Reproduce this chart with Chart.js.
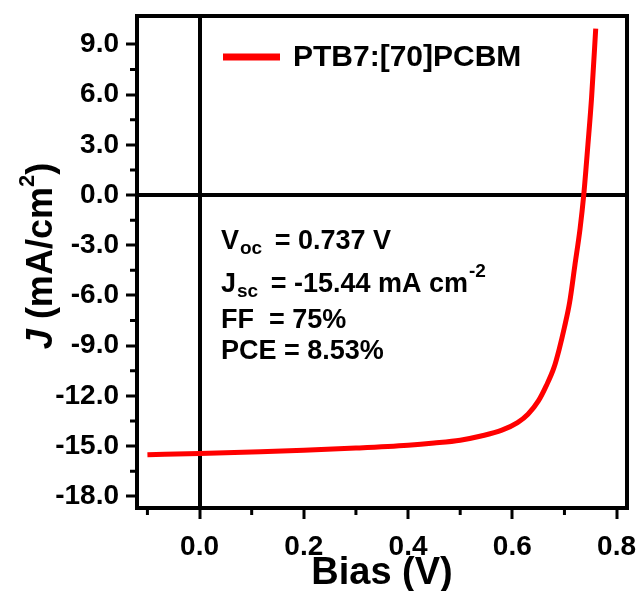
<!DOCTYPE html>
<html>
<head>
<meta charset="utf-8">
<script src="https://cdn.jsdelivr.net/npm/chart.js@4.4.1/dist/chart.umd.min.js"></script>
<style>
  html, body { margin: 0; padding: 0; background: #fff; }
  #wrap { width: 639px; height: 591px; }
</style>
</head>
<body>
<div id="wrap"><canvas id="jv" width="639" height="591"></canvas></div>
<script>
// J-V curve
const seriesLabel = "PTB7:[70]PCBM";
const biasV = [-0.1, 0, 0.1, 0.2, 0.3, 0.4, 0.45, 0.5, 0.54, 0.58, 0.61, 0.63, 0.65, 0.665, 0.68, 0.69, 0.70, 0.71, 0.72, 0.73, 0.737, 0.745, 0.752, 0.76];
const currentJ = [-15.52, -15.44, -15.35, -15.25, -15.12, -14.95, -14.82, -14.65, -14.4, -14.05, -13.6, -13.1, -12.3, -11.4, -10.3, -9.2, -7.9, -6.4, -4.2, -2.0, 0, 3.0, 5.8, 9.95];

const xTicks = [0, 0.2, 0.4, 0.6, 0.8];
const xMinor = [-0.1, 0.1, 0.3, 0.5, 0.7];
const yTicks = [-18, -15, -12, -9, -6, -3, 0, 3, 6, 9];
const yMinor = [-16.5, -13.5, -10.5, -7.5, -4.5, -1.5, 1.5, 4.5, 7.5];

// [main, subscript, rest, superscript]
const statLines = [
  ["V", "oc", " = 0.737 V", ""],
  ["J", "sc", " = -15.44 mA cm", "-2"],
  ["FF", "", "  = 75%", ""],
  ["PCE", "", " = 8.53%", ""]
];

const FAM = '"Liberation Sans", Arial, Helvetica, sans-serif';
const font = (size, style) => `${style || ""} bold ${size}px ${FAM}`;

const decor = {
  id: "decor",
  afterDraw(chart) {
    const { ctx, chartArea: a, scales } = chart;
    const xs = scales.x, ys = scales.y;
    ctx.save();
    ctx.strokeStyle = "#000";
    ctx.fillStyle = "#000";

    // minor ticks
    ctx.lineWidth = 3;
    ctx.beginPath();
    xMinor.forEach(v => {
      const px = xs.getPixelForValue(v);
      ctx.moveTo(px, a.bottom);
      ctx.lineTo(px, a.bottom + 7);
    });
    yMinor.forEach(v => {
      const py = ys.getPixelForValue(v);
      ctx.moveTo(a.left, py);
      ctx.lineTo(a.left - 7, py);
    });
    ctx.stroke();

    // frame
    ctx.lineWidth = 4;
    ctx.strokeRect(a.left, a.top, a.right - a.left, a.bottom - a.top);

    // legend
    const ds = chart.data.datasets[0];
    ctx.strokeStyle = ds.borderColor;
    ctx.lineWidth = 7;
    ctx.beginPath();
    ctx.moveTo(a.left + 86, a.top + 41);
    ctx.lineTo(a.left + 143, a.top + 41);
    ctx.stroke();
    ctx.font = font(30);
    ctx.textBaseline = "middle";
    ctx.textAlign = "left";
    ctx.fillText(ds.label, a.left + 156, a.top + 42);

    // stats
    ctx.textBaseline = "alphabetic";
    const baseY = [249, 292, 328, 359];
    statLines.forEach((ln, i) => {
      let x = 221;
      const y = baseY[i];
      ctx.font = font(27);
      ctx.fillText(ln[0], x, y);
      x += ctx.measureText(ln[0]).width;
      if (ln[1]) {
        ctx.font = font(19);
        ctx.fillText(ln[1], x + 1, y + 5);
        x += ctx.measureText(ln[1]).width + 6;
      }
      ctx.font = font(27);
      ctx.fillText(ln[2], x, y);
      x += ctx.measureText(ln[2]).width;
      if (ln[3]) {
        ctx.font = font(19);
        ctx.fillText(ln[3], x + 1, y - 15);
      }
    });

    // y title: J (mA/cm^2), rotated
    const parts = [
      { t: "J", f: font(36, "italic"), dy: 0 },
      { t: " (mA/cm", f: font(36), dy: 0 },
      { t: "2", f: font(22), dy: -18 },
      { t: ")", f: font(36), dy: 0 }
    ];
    let total = 0;
    parts.forEach(p => { ctx.font = p.f; p.w = ctx.measureText(p.t).width; total += p.w; });
    ctx.translate(52, (a.top + a.bottom) / 2 - 6);
    ctx.rotate(-Math.PI / 2);
    let cx = -total / 2;
    parts.forEach(p => {
      ctx.font = p.f;
      ctx.fillText(p.t, cx, p.dy);
      cx += p.w;
    });
    ctx.restore();
  }
};

new Chart(document.getElementById("jv"), {
  type: "line",
  data: {
    datasets: [{
      label: seriesLabel,
      data: biasV.map((v, i) => ({ x: v, y: currentJ[i] })),
      borderColor: "#ff0000",
      borderWidth: 5,
      pointRadius: 0,
      fill: false,
      cubicInterpolationMode: "monotone"
    }]
  },
  options: {
    responsive: false,
    animation: false,
    layout: { padding: { top: 16, right: 12, left: 0, bottom: 0 } },
    plugins: { legend: { display: false }, tooltip: { enabled: false } },
    scales: {
      x: {
        type: "linear",
        min: -0.12,
        max: 0.82,
        afterBuildTicks: s => { s.ticks = xTicks.map(v => ({ value: v })); },
        afterFit: s => { s.height = 83; s.paddingLeft = 0; s.paddingRight = 0; },
        border: { display: false },
        grid: {
          drawOnChartArea: true,
          color: c => (c.tick && c.tick.value === 0 ? "#000" : "rgba(0,0,0,0)"),
          lineWidth: 4,
          tickColor: "#000",
          tickWidth: 3,
          tickLength: 11
        },
        ticks: {
          color: "#000",
          padding: 11,
          maxRotation: 0,
          font: { family: FAM, size: 28, weight: "bold" },
          callback: v => Number(v).toFixed(1)
        },
        title: {
          display: true,
          text: "Bias (V)",
          color: "#000",
          padding: { top: 0, bottom: 0 },
          font: { family: FAM, size: 38, weight: "bold", lineHeight: 0.9 }
        }
      },
      y: {
        type: "linear",
        min: -18.7,
        max: 10.7,
        afterBuildTicks: s => { s.ticks = yTicks.map(v => ({ value: v })); },
        afterFit: s => { s.width = 137; s.paddingTop = 0; s.paddingBottom = 0; },
        border: { display: false },
        grid: {
          drawOnChartArea: true,
          color: c => (c.tick && c.tick.value === 0 ? "#000" : "rgba(0,0,0,0)"),
          lineWidth: 4,
          tickColor: "#000",
          tickWidth: 3,
          tickLength: 11
        },
        ticks: {
          color: "#000",
          padding: 7,
          font: { family: FAM, size: 28, weight: "bold" },
          callback: v => Number(v).toFixed(1)
        }
      }
    }
  },
  plugins: [decor]
});
</script>
</body>
</html>
